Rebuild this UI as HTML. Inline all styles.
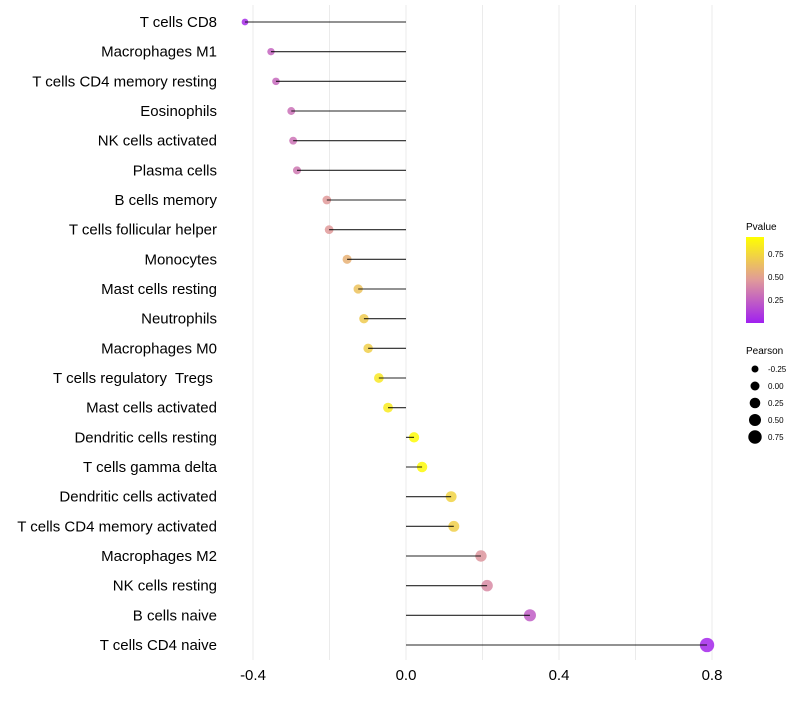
<!DOCTYPE html>
<html><head><meta charset="utf-8"><style>
body{margin:0;background:#fff;font-family:"Liberation Sans",sans-serif;}
svg text{font-family:"Liberation Sans",sans-serif;white-space:pre;}
</style></head><body>
<svg id="chart" width="800" height="700">
<defs><linearGradient id="pg" x1="0" y1="1" x2="0" y2="0">
<stop offset="0" stop-color="#A020F0"/><stop offset="0.5" stop-color="#E09A9A"/><stop offset="1" stop-color="#FFFF00"/>
</linearGradient></defs>
<g id="grid"></g>
<g id="pts"></g>
<g id="marks"></g>
<g id="ylab"></g>
<g id="xlab"></g>
<g>
<text x="746" y="230" font-size="10">Pvalue</text>
<rect x="746" y="237" width="18" height="86" fill="url(#pg)"/>
<text x="768" y="257" font-size="8">0.75</text>
<text x="768" y="280" font-size="8">0.50</text>
<text x="768" y="303" font-size="8">0.25</text>
</g>
<g id="sizeleg">
<text x="746" y="354" font-size="10">Pearson</text>
</g>
</svg>
<script>
const categories=["T cells CD8","Macrophages M1","T cells CD4 memory resting","Eosinophils","NK cells activated","Plasma cells","B cells memory","T cells follicular helper","Monocytes","Mast cells resting","Neutrophils","Macrophages M0","T cells regulatory  Tregs ","Mast cells activated","Dendritic cells resting","T cells gamma delta","Dendritic cells activated","T cells CD4 memory activated","Macrophages M2","NK cells resting","B cells naive","T cells CD4 naive"];
const pearson=[-0.421,-0.353,-0.34,-0.30,-0.295,-0.285,-0.207,-0.201,-0.154,-0.125,-0.11,-0.099,-0.071,-0.047,0.021,0.042,0.118,0.125,0.196,0.212,0.324,0.787];
const pvalue=[0.05,0.28,0.3,0.33,0.34,0.36,0.5,0.5,0.62,0.7,0.74,0.76,0.88,0.9,0.98,0.97,0.78,0.76,0.48,0.44,0.25,0.03];
const xTicks=[-0.4,0,0.4,0.8];
const xTickLabels=["-0.4","0.0","0.4","0.8"];
const sizeLegend=[-0.25,0,0.25,0.5,0.75];
const sizeLegendLabels=["-0.25","0.00","0.25","0.50","0.75"];
const NS="http://www.w3.org/2000/svg";
const X=v=>406+v*382.5;
const Y=i=>22+i*(623/21);
const R=v=>Math.sqrt(Math.max(4,19.2+29*v))+0.7;
function hex(c){return [1,3,5].map(i=>parseInt(c.substr(i,2),16));}
const stops=[[0,hex("#A020F0")],[0.5,hex("#E09A9A")],[1,hex("#FFFF00")]];
function col(p){let a=stops[0],b=stops[1];if(p>0.5){a=stops[1];b=stops[2];}
const t=(p-a[0])/(b[0]-a[0]);return "rgb("+a[1].map((c,k)=>Math.round(c+(b[1][k]-c)*t)).join(",")+")";}
function mk(tag,attrs,parent){const e=document.createElementNS(NS,tag);for(const k in attrs)e.setAttribute(k,attrs[k]);parent.appendChild(e);return e;}
const grid=document.getElementById('grid');
[-0.4,-0.2,0,0.2,0.4,0.6,0.8].forEach(v=>{const l=mk('line',{x1:X(v),x2:X(v),y1:5,y2:660,stroke:'#ebebeb','stroke-width':1},grid);

});
const marks=document.getElementById('marks'),pts=document.getElementById('pts'),ylab=document.getElementById('ylab'),xlab=document.getElementById('xlab');
categories.forEach((c,i)=>{
const p=mk('circle',{cx:X(pearson[i]),cy:Y(i),r:R(pearson[i]),fill:col(pvalue[i]),opacity:0.85},pts);


const s=mk('line',{x1:X(0),x2:X(pearson[i]),y1:Y(i),y2:Y(i),stroke:'#000','stroke-width':1.1,opacity:0.85},marks);


const t=mk('text',{x:217,y:Y(i)+5,'text-anchor':'end','font-size':15,fill:'#000'},ylab);t.textContent=c;


});
xTicks.forEach((v,i)=>{const t=mk('text',{x:X(v),y:680,'text-anchor':'middle','font-size':15},xlab);t.textContent=xTickLabels[i];

});
const sl=document.getElementById('sizeleg');
const LR=[3.5,4.5,5.3,6,6.7];
sizeLegend.forEach((v,i)=>{const y=369+i*17;
const c=mk('circle',{cx:755,cy:y,r:LR[i],fill:'#000'},sl);


const t=mk('text',{x:768,y:y+3,'font-size':8},sl);t.textContent=sizeLegendLabels[i];

});
</script>
</body></html>
